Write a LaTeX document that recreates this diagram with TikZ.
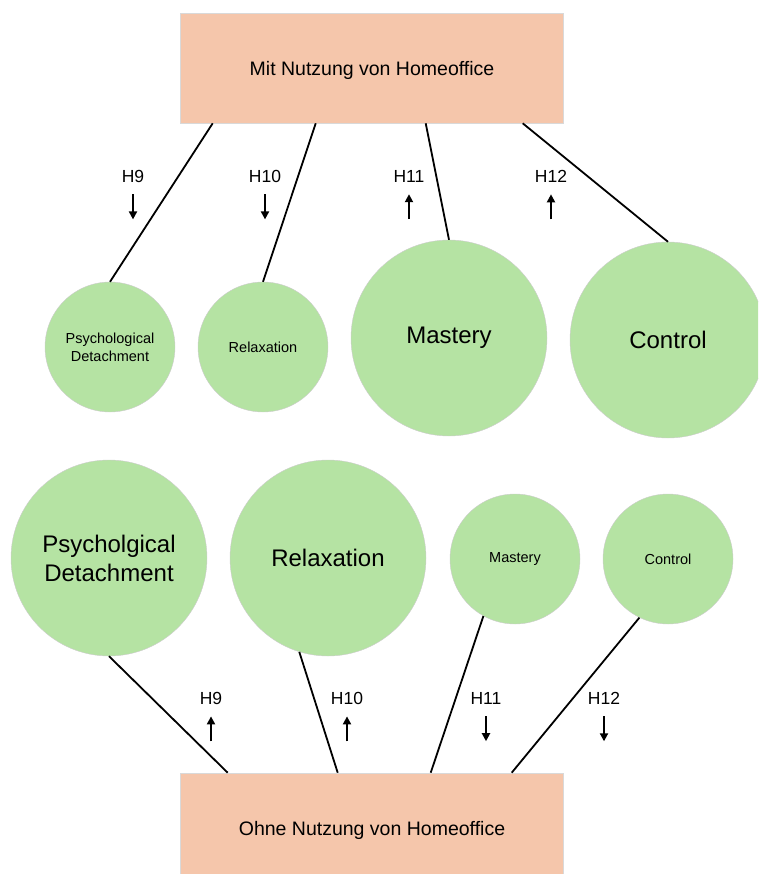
\documentclass[tikz,border=0pt]{standalone}
\usepackage{fontspec}
\setmainfont{Liberation Sans}
\usetikzlibrary{arrows.meta}
\definecolor{peach}{HTML}{F5C6AB}
\definecolor{mint}{HTML}{B5E3A3}
\begin{document}
\begin{tikzpicture}[x=1pt,y=-1pt,
  box/.style={fill=peach,draw=black!15,line width=0.6pt,minimum width=383pt,inner sep=0pt},
  boxtxt/.style={font=\fontsize{19.5}{22}\selectfont,inner sep=0pt},
  smallc/.style={circle,fill=mint,draw=black!20,line width=0.4pt,minimum size=130pt,inner sep=0pt,align=center,font=\fontsize{14.5}{18}\selectfont},
  bigc/.style={circle,fill=mint,draw=black!20,line width=0.4pt,minimum size=196pt,inner sep=0pt,align=center,font=\fontsize{24}{29}\selectfont},
  link/.style={line width=1.8pt,black},
  hyp/.style={font=\fontsize{17.5}{20}\selectfont,inner sep=0pt},
  arr/.style={line width=1.9pt,-{Triangle[length=8pt,width=8pt]}}]
\useasboundingbox (0,0) rectangle (758,874);
\begin{scope}
\clip (0,0) rectangle (758,874);
% boxes
\node[box,minimum height=110pt] (top) at (371.5,68) {};
\node[boxtxt] (toptxt) at (372,70) {Mit Nutzung von Homeoffice};
\node[box,minimum height=104pt] (bot) at (371.5,825) {};
\node[boxtxt] (bottxt) at (372,830) {Ohne Nutzung von Homeoffice};
% top row circles
\node[smallc] (pd1) at (110,347) {Psychological\\Detachment};
\node[smallc] (rx1) at (263,347) {Relaxation};
\node[bigc] (ms1) at (449,338) {\raisebox{-3pt}{Mastery}};
\node[bigc] (ct1) at (668,340) {\raisebox{-1pt}{Control}};
% bottom row circles
\node[bigc] (pd2) at (109,558) {Psycholgical\\Detachment};
\node[bigc] (rx2) at (328,558) {\raisebox{-1pt}{Relaxation}};
\node[smallc] (ms2) at (515,559) {\raisebox{-1pt}{Mastery}};
\node[smallc] (ct2) at (668,559) {Control};
% top links
\draw[link] ([xshift=33pt]top.south west) -- (pd1.north);
\draw[link] ([xshift=136pt]top.south west) -- (rx1.north);
\draw[link] ([xshift=246pt]top.south west) -- (ms1.north);
\draw[link] ([xshift=343pt]top.south west) -- (ct1.north);
% bottom links
\draw[link] (pd2.south) -- ([xshift=48pt]bot.north west);
\draw[link] (rx2.253) -- ([xshift=158pt]bot.north west);
\draw[link] (ms2.241) -- ([xshift=251pt]bot.north west);
\draw[link] (ct2.244) -- ([xshift=332pt]bot.north west);
% hypotheses top
\node[hyp] (h9a) at (133,176) {H9};
\node[hyp] (h10a) at (265,176) {H10};
\node[hyp] (h11a) at (409,176) {H11};
\node[hyp] (h12a) at (551,176) {H12};
\draw[arr] ([yshift=-12pt]h9a.south) -- ++(0,25);
\draw[arr] ([yshift=-12pt]h10a.south) -- ++(0,25);
\draw[arr] ([yshift=-37pt]h11a.south) -- ++(0,-25);
\draw[arr] ([yshift=-37pt]h12a.south) -- ++(0,-25);
% hypotheses bottom
\node[hyp] (h9b) at (211,698) {H9};
\node[hyp] (h10b) at (347,698) {H10};
\node[hyp] (h11b) at (486,698) {H11};
\node[hyp] (h12b) at (604,698) {H12};
\draw[arr] ([yshift=-37pt]h9b.south) -- ++(0,-25);
\draw[arr] ([yshift=-37pt]h10b.south) -- ++(0,-25);
\draw[arr] ([yshift=-12pt]h11b.south) -- ++(0,25);
\draw[arr] ([yshift=-12pt]h12b.south) -- ++(0,25);
\end{scope}
\end{tikzpicture}
\end{document}
